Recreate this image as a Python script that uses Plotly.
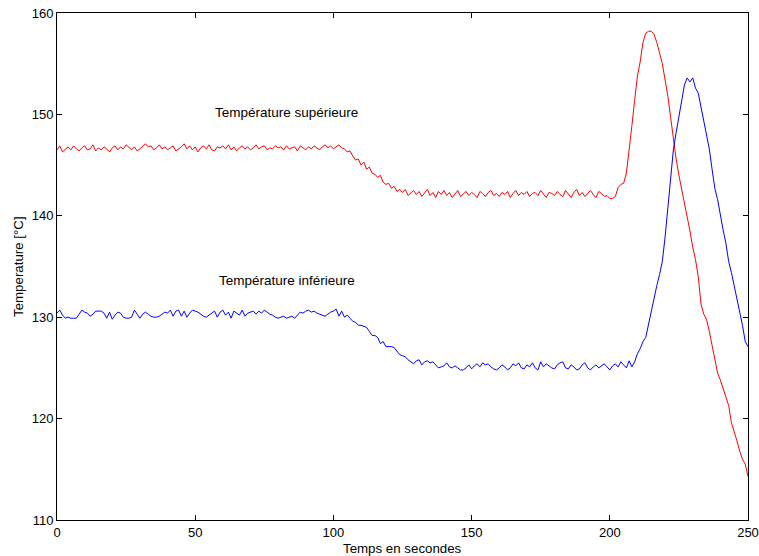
import plotly.graph_objects as go

time_s = list(range(0, 251))

temp_sup = [
    146.5, 146.9, 146.3, 146.6, 146.8, 146.5, 146.9, 146.6, 146.4, 146.7,
    146.9, 146.5, 146.6, 147.0, 146.4, 146.7, 146.5, 146.8, 146.6, 146.3,
    146.7, 146.9, 146.5, 146.8, 146.6, 147.0, 146.7, 146.5, 146.8, 146.4,
    146.6, 146.9, 147.1, 146.8, 146.9, 146.5, 146.7, 147.0, 146.6, 146.8,
    146.5, 146.7, 146.9, 146.4, 146.6, 146.8, 147.1, 146.6, 146.9, 146.5,
    146.8, 146.3, 146.7, 146.9, 146.6, 147.0, 146.5, 146.4, 146.8, 146.7,
    146.9, 146.6, 147.0, 146.5, 146.8, 146.4, 146.7, 146.9, 146.6, 146.8,
    146.5, 146.7, 147.0, 146.6, 146.8, 146.9, 146.5, 146.7, 146.6, 146.9,
    146.7, 146.8, 146.5, 146.9, 146.6, 146.7, 146.8, 146.4, 146.9, 146.7,
    146.5, 146.8, 146.6, 146.9, 146.7, 146.5, 146.8, 147.0, 146.7, 146.9,
    146.6, 146.8, 147.0, 146.7, 146.6, 146.3, 146.4, 145.9, 145.5, 145.6,
    145.0, 145.3, 144.6, 144.8, 144.2, 144.1, 143.8, 144.0, 143.3, 143.1,
    143.2, 142.7, 142.9, 142.4, 142.6, 142.3, 142.6, 142.0, 142.3, 142.5,
    142.1, 142.4, 141.9, 142.2, 142.6, 142.0, 142.3, 141.8, 142.4, 142.1,
    142.5, 142.0, 142.3, 141.8, 142.2, 142.5, 141.9, 142.2, 142.4, 142.0,
    142.3, 142.1, 141.8, 142.4, 142.2, 141.9, 142.3, 142.5, 142.0, 142.2,
    141.9, 142.3, 142.1, 142.4, 141.8, 142.2, 142.5, 142.0, 142.3, 142.1,
    142.4, 141.9, 142.2, 142.3, 142.0, 142.5, 142.1, 141.8, 142.3, 142.2,
    142.0, 142.4, 142.1, 141.9, 142.5, 142.2, 141.8, 142.3, 142.6, 142.0,
    142.3, 141.9, 142.2, 142.5, 142.1, 141.8, 142.4, 142.2, 141.9, 142.0,
    141.7, 141.7, 141.9, 142.8, 143.1, 143.2, 144.2, 146.4, 148.9, 151.4,
    153.8, 155.2, 157.1, 158.0, 158.2, 158.2, 157.9, 157.1, 156.0, 155.0,
    153.4, 151.8, 149.7, 147.5, 145.6, 144.0, 142.7, 141.3, 140.1, 138.5,
    136.9, 135.7, 134.0, 131.3, 130.3, 129.8, 128.6, 127.3, 125.9, 124.5,
    123.8, 122.9, 122.0, 121.3, 119.6, 118.8, 117.8, 116.8, 116.0, 115.5,
    114.3,
]

temp_inf = [
    130.4, 130.7, 130.2, 129.9, 130.0, 129.9, 129.9, 129.9, 130.3, 130.7,
    130.5, 130.4, 130.1, 130.3, 130.6, 130.6, 130.6, 130.4, 129.9, 130.5,
    129.8, 130.2, 130.5, 130.4, 130.0, 129.9, 129.9, 130.0, 130.7, 130.3,
    129.9, 130.3, 130.5, 130.3, 130.1, 130.0, 130.0, 130.1, 130.3, 130.5,
    130.4, 130.7, 130.1, 130.6, 130.7, 130.1, 130.6, 130.0, 130.4, 130.7,
    130.6, 130.5, 130.3, 130.1, 130.0, 130.2, 130.4, 130.6, 130.0, 130.5,
    130.7, 130.2, 130.5, 129.9, 130.6, 130.4, 130.2, 130.7, 130.1, 130.4,
    130.5, 130.6, 130.3, 130.6, 130.4, 130.7, 130.5, 130.3, 130.2, 130.0,
    129.9, 130.0, 130.1, 129.9, 130.0, 130.1, 129.9, 130.2, 130.5, 130.4,
    130.6, 130.7, 130.5, 130.6, 130.4, 130.3, 130.2, 130.1, 130.3, 130.5,
    130.6, 130.8, 130.1, 130.6, 130.0, 130.2, 129.9, 129.6, 129.5, 129.2,
    129.2, 129.1, 129.0, 128.6, 128.2, 128.2, 128.0, 127.4, 127.6, 127.1,
    127.1, 127.1, 127.0, 126.6, 126.3, 126.2, 126.1, 125.8, 125.6, 125.4,
    125.7, 125.8, 125.3, 125.6, 125.7, 125.5, 125.6, 125.3, 125.0, 125.1,
    125.2, 125.5, 125.1, 125.0, 125.2, 125.0, 124.8, 124.8, 125.0, 125.3,
    124.9, 125.2, 125.4, 125.1, 125.5, 125.3, 125.4, 125.1, 124.9, 124.8,
    125.0, 125.3, 125.1, 124.8, 125.0, 125.4, 125.2, 125.5, 125.0, 124.9,
    125.3, 125.1, 125.5, 125.0, 124.8, 125.6, 125.1, 125.4, 125.2, 125.0,
    124.9, 125.3, 125.5, 125.6, 125.0, 124.9, 125.3, 125.1, 124.8, 124.9,
    125.3, 125.5, 125.0, 124.8, 125.1, 125.3, 125.0, 125.2, 125.4, 125.1,
    124.8, 125.2, 125.4, 125.1, 125.6, 125.3, 125.0, 125.7, 125.1, 125.6,
    126.4, 126.9, 127.6, 128.0, 129.3, 130.7, 131.9, 133.1, 134.2, 135.5,
    137.9, 140.8, 143.8, 146.5, 148.2, 149.9, 151.5, 152.9, 153.6, 153.2,
    153.6, 152.6, 152.1, 150.7, 149.3, 148.0, 146.6, 144.6, 142.7, 141.6,
    139.9, 138.6, 137.3, 135.5, 134.4, 133.1, 131.9, 130.7, 129.2, 127.6,
    127.1,
]

x_ticks = [0, 50, 100, 150, 200, 250]
y_ticks = [110, 120, 130, 140, 150, 160]

label_sup = "Température supérieure"
label_inf = "Température inférieure"
x_title = "Temps en secondes"
y_title = "Temperature [°C]"

FONT = "Liberation Sans, Arial, Helvetica, sans-serif"

fig = go.Figure()
fig.add_trace(go.Scatter(x=time_s, y=temp_sup, mode="lines",
                         line=dict(color="#ff0000", width=1), showlegend=False))
fig.add_trace(go.Scatter(x=time_s, y=temp_inf, mode="lines",
                         line=dict(color="#0000ff", width=1), showlegend=False))

axis_common = dict(
    showgrid=False, zeroline=False, showline=True, linecolor="#000000",
    linewidth=1, mirror="ticks", ticks="inside", ticklen=5, tickwidth=1,
    tickcolor="#000000", automargin=False,
    tickfont=dict(family=FONT, size=13, color="#000000"),
)

fig.update_xaxes(range=[0, 250], tickvals=x_ticks, **axis_common)
fig.update_yaxes(range=[110, 160], tickvals=y_ticks, **axis_common)

fig.add_annotation(x=56.5, y=150.2, xref="x", yref="y", text=label_sup,
                   showarrow=False, xanchor="left", yanchor="middle",
                   font=dict(family=FONT, size=13.5, color="#000000"))
fig.add_annotation(x=57.8, y=133.6, xref="x", yref="y", text=label_inf,
                   showarrow=False, xanchor="left", yanchor="middle",
                   font=dict(family=FONT, size=13.5, color="#000000"))
fig.add_annotation(x=0.5, y=0, xref="paper", yref="paper", text=x_title,
                   showarrow=False, xanchor="center", yanchor="top", yshift=-19,
                   font=dict(family=FONT, size=13.3, color="#000000"))
fig.add_annotation(x=0, y=0.5, xref="paper", yref="paper", text=y_title,
                   showarrow=False, xanchor="right", yanchor="middle", xshift=-29,
                   textangle=-90,
                   font=dict(family=FONT, size=13.3, color="#000000"))

fig.update_layout(
    width=759, height=556, autosize=False,
    margin=dict(l=57, r=11, t=13, b=36, pad=0, autoexpand=False),
    paper_bgcolor="#ffffff", plot_bgcolor="#ffffff",
    font=dict(family=FONT, size=13, color="#000000"),
)

fig.write_html(
    "out.html",
    config={"displayModeBar": False},
    post_script="document.body.style.margin='0';document.body.style.overflow='hidden';",
)
